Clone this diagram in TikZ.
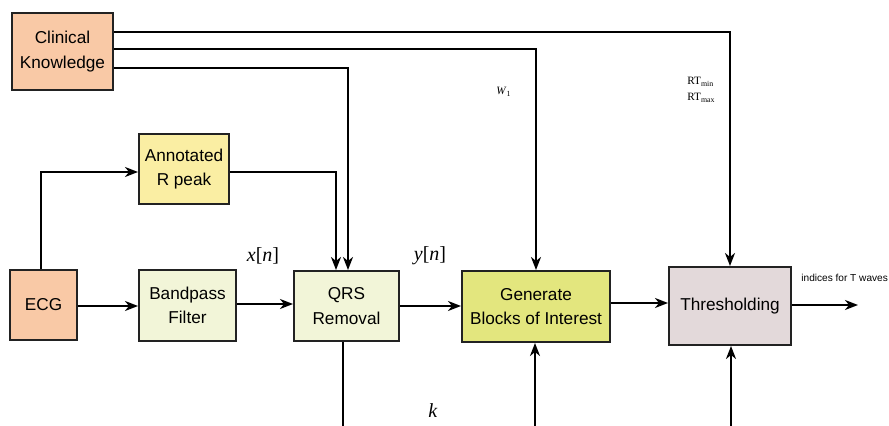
\documentclass[tikz,border=0pt]{standalone}
\usepackage{fontspec}
\setmainfont{Liberation Sans}
\newfontfamily\serif{Liberation Serif}
\usetikzlibrary{arrows.meta,calc}
\definecolor{peach}{HTML}{F9C9A6}
\definecolor{annc}{HTML}{FAEEA3}
\definecolor{pale}{HTML}{F2F5D8}
\definecolor{genc}{HTML}{E3E67E}
\definecolor{thrc}{HTML}{E3D9DA}
\definecolor{edge}{HTML}{222222}
\tikzset{
  blk/.style={draw=edge, line width=1pt, inner sep=0pt, align=center,
    font=\fontsize{8.6}{12.2}\selectfont},
  arr/.style={-{Stealth[length=6.5pt,width=5pt,inset=2pt]}, line width=1pt},
  ln/.style={line width=1pt},
  lab/.style={font=\serif\fontsize{10}{12}\selectfont, inner sep=0pt},
  slab/.style={font=\serif\fontsize{5.6}{7}\selectfont, inner sep=0pt},
}
\begin{document}
\begin{tikzpicture}[x=0.5pt,y=-0.5pt]
\useasboundingbox (0,0) rectangle (889,426);
% nodes
\node[blk, fill=peach, minimum width=50.5pt, minimum height=38.5pt] (ck) at (62.5,51.5) {Clinical\\Knowledge};
\node[blk, fill=peach, minimum width=33.5pt, minimum height=35pt] (ecg) at (43.5,305) {ECG};
\node[blk, fill=annc, minimum width=45pt, minimum height=35pt] (ann) at (184,169) {Annotated\\R peak};
\node[blk, fill=pale, minimum width=48.5pt, minimum height=35.5pt] (bp) at (187.5,305.5) {Bandpass\\Filter};
\node[blk, fill=pale, minimum width=52.5pt, minimum height=35pt] (qrs) at (346.5,306) {QRS\\Removal};
\node[blk, fill=genc, minimum width=74pt, minimum height=35.5pt] (gen) at (536,306.5) {Generate\\Blocks of Interest};
\node[blk, fill=thrc, minimum width=61pt, minimum height=39pt] (thr) at (730,306) {Thresholding};
% helper coordinates
\coordinate (t1) at (0,32);
\coordinate (t2) at (0,49);
\coordinate (t3) at (0,68);
\coordinate (a1) at (0,172);
\coordinate (h1) at (0,306);
\coordinate (h2) at (0,304);
\coordinate (h3) at (0,306);
\coordinate (h4) at (0,303);
\coordinate (h5) at (0,305);
\coordinate (ex) at (41,0);
\coordinate (qa) at (336,0);
\coordinate (qb) at (348,0);
\coordinate (out) at (858,305);
\coordinate (b1) at (343,426);
\coordinate (b2) at (535,426);
\coordinate (b3) at (731,426);
% connectors
\draw[arr] (ck.east |- t1) -| (thr.north);
\draw[arr] (ck.east |- t2) -| (gen.north);
\draw[arr] (ck.east |- t3) -| (qrs.north -| qb);
\draw[arr] (ecg.north -| ex) |- (ann.west |- a1);
\draw[arr] (ann.east |- a1) -| (qrs.north -| qa);
\draw[arr] (ecg.east |- h1) -- (bp.west |- h1);
\draw[arr] (bp.east |- h2) -- (qrs.west |- h2);
\draw[arr] (qrs.east |- h3) -- (gen.west |- h3);
\draw[arr] (gen.east |- h4) -- (thr.west |- h4);
\draw[arr] (thr.east |- h5) -- (out);
\draw[ln] (qrs.south -| b1) -- (b1);
\draw[arr] (b2) -- (gen.south -| b2);
\draw[arr] (b3) -- (thr.south -| b3);
% labels
\node[lab] (lx) at (263,256) {\textit{x}[\textit{n}]};
\node[lab] (ly) at (430,256) {\textit{y}[\textit{n}]};
\node[lab] (lk) at (433,411) {\textit{k}};
\node[slab] (lw) at (504,92) {\textit{W}\textsubscript{1}};
\node[slab, anchor=west] (lr1) at (687,82) {RT\textsubscript{min}};
\node[slab, anchor=west] (lr2) at (687,98) {RT\textsubscript{max}};
\node[anchor=west, inner sep=0pt, font=\fontsize{5.05}{6}\selectfont] (li) at (801,278) {indices for T waves};
\end{tikzpicture}
\end{document}
